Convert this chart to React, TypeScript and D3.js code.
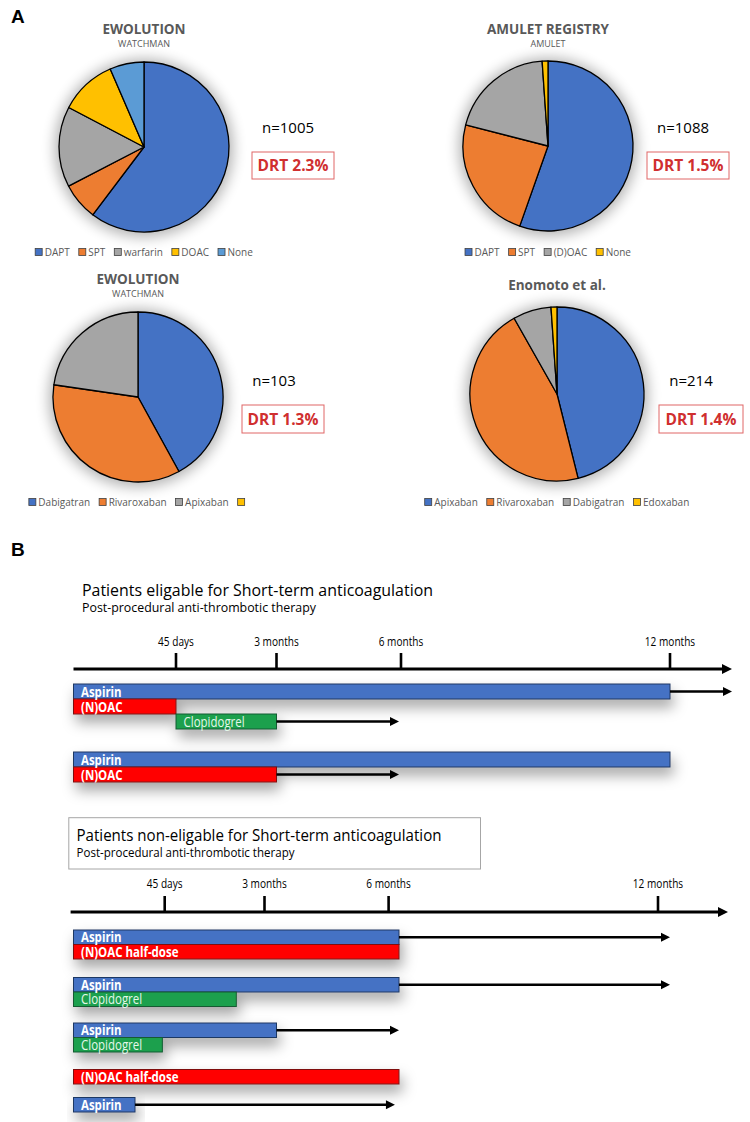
import React from "react";
import * as d3 from "d3";

// ---------- Panel A data ----------
const pieTitles = ["EWOLUTION", "AMULET REGISTRY", "EWOLUTION", "Enomoto et al."];
const pieSubtitles = ["WATCHMAN", "AMULET", "WATCHMAN", ""];
const pieNs = ["n=1005", "n=1088", "n=103", "n=214"];
const pieDRTs = ["DRT 2.3%", "DRT 1.5%", "DRT 1.3%", "DRT 1.4%"];

const ewoLabels = ["DAPT", "SPT", "warfarin", "DOAC", "None"];
const ewoValues = [60.3, 7.1, 15.3, 10.8, 6.5];
const amuletLabels = ["DAPT", "SPT", "(D)OAC", "None"];
const amuletValues = [55.4, 23.6, 19.9, 1.1];
const ewoNoacLabels = ["Dabigatran", "Rivaroxaban", "Apixaban", ""];
const ewoNoacValues = [42.0, 35.3, 22.7, 0];
const enomotoLabels = ["Apixaban", "Rivaroxaban", "Dabigatran", "Edoxaban"];
const enomotoValues = [46.1, 45.7, 7.1, 1.1];

// ---------- Panel B data ----------
const tickLabels = ["45 days", "3 months", "6 months", "12 months"];
const tickMonths = [1.5, 3, 6, 12];

const sec1Title = "Patients eligable for Short-term anticoagulation";
const sec2Title = "Patients non-eligable for Short-term anticoagulation";
const secSubtitle = "Post-procedural anti-thrombotic therapy";

// group, row within group, drug, start (months), end (months), arrow continuation to (months, -1 = open end)
type Row = { group: number; row: number; drug: string; start: number; end: number; arrowTo: number | null };
const sec1Rows: Row[] = [
  { group: 0, row: 0, drug: "Aspirin", start: 0, end: 12, arrowTo: -1 },
  { group: 0, row: 1, drug: "(N)OAC", start: 0, end: 1.5, arrowTo: null },
  { group: 0, row: 2, drug: "Clopidogrel", start: 1.5, end: 3, arrowTo: 6 },
  { group: 1, row: 0, drug: "Aspirin", start: 0, end: 12, arrowTo: null },
  { group: 1, row: 1, drug: "(N)OAC", start: 0, end: 3, arrowTo: 6 },
];
const sec2Rows: Row[] = [
  { group: 0, row: 0, drug: "Aspirin", start: 0, end: 6, arrowTo: 12 },
  { group: 0, row: 1, drug: "(N)OAC half-dose", start: 0, end: 6, arrowTo: null },
  { group: 1, row: 0, drug: "Aspirin", start: 0, end: 6, arrowTo: 12 },
  { group: 1, row: 1, drug: "Clopidogrel", start: 0, end: 2.4, arrowTo: null },
  { group: 2, row: 0, drug: "Aspirin", start: 0, end: 3, arrowTo: 6 },
  { group: 2, row: 1, drug: "Clopidogrel", start: 0, end: 1.3, arrowTo: null },
  { group: 3, row: 0, drug: "(N)OAC half-dose", start: 0, end: 6, arrowTo: null },
  { group: 4, row: 0, drug: "Aspirin", start: 0, end: 0.9, arrowTo: 5.9 },
];

// ---------- styles ----------
const PIE_COLORS = ["#4472C4", "#ED7D31", "#A5A5A5", "#FFC000", "#5B9BD5"];
const SANS = "'Open Sans', 'Noto Sans', sans-serif";

const drugStyle = (d: string) => {
  if (d.startsWith("Aspirin")) return { fill: "#4472C4", stroke: "#1F3864", text: "#FFFFFF", weight: 700 };
  if (d.startsWith("(N)OAC")) return { fill: "#FF0000", stroke: "#7F1010", text: "#FFFFFF", weight: 700 };
  return { fill: "#1FA04E", stroke: "#145A30", text: "#E4F7EA", weight: 400 };
};

let _ctx: CanvasRenderingContext2D | null = null;
function textWidth(t: string, font: string) {
  if (!_ctx) _ctx = document.createElement("canvas").getContext("2d");
  if (!_ctx) return t.length * 5.5;
  _ctx.font = font;
  return _ctx.measureText(t).width;
}

type PieSpec = {
  cx: number; cy: number; r: number; titleY: number; subY: number;
  nX: number; nY: number; box: [number, number, number, number]; legendY: number;
};

function Pie({ idx, labels, values, spec }: { idx: number; labels: string[]; values: number[]; spec: PieSpec }) {
  const pie = d3.pie<number>().sort(null).value((d) => d);
  const arcs = pie(values);
  const arc = d3.arc<d3.PieArcDatum<number>>().innerRadius(0).outerRadius(spec.r);
  const legendFont = `10px ${SANS}`;
  const sq = 7, gapIn = 2.5, gapOut = 9;
  const widths = labels.map((l) => sq + gapIn + textWidth(l, legendFont));
  const total = d3.sum(widths) + gapOut * (labels.length - 1);
  let lx = spec.cx - total / 2;
  const items = labels.map((l, i) => {
    const x = lx;
    lx += widths[i] + gapOut;
    return { l, x, c: PIE_COLORS[i] };
  });
  const [bx0, by0, bx1, by1] = spec.box;
  return (
    <g>
      <text x={spec.cx} y={spec.titleY} textAnchor="middle" fontFamily={SANS} fontWeight={700} fontSize={13.5} fill="#595959">
        {pieTitles[idx]}
      </text>
      {pieSubtitles[idx] && (
        <text x={spec.cx} y={spec.subY} textAnchor="middle" fontFamily={SANS} fontSize={9} fill="#595959">
          {pieSubtitles[idx]}
        </text>
      )}
      <circle cx={spec.cx} cy={spec.cy + 1} r={spec.r + 4} fill="#000" opacity={0.3} filter="url(#pieGlow)" />
      <g transform={`translate(${spec.cx},${spec.cy})`}>
        {arcs.map((a, i) =>
          a.value > 0 ? (
            <path key={i} d={arc(a) || ""} fill={PIE_COLORS[i]} stroke="#000" strokeWidth={1.3} strokeLinejoin="round" />
          ) : null
        )}
      </g>
      <text x={spec.nX} y={spec.nY} textAnchor="middle" fontFamily={SANS} fontSize={15} fill="#000">
        {pieNs[idx]}
      </text>
      <rect x={bx0} y={by0} width={bx1 - bx0} height={by1 - by0} fill="#fff" stroke="#E06666" strokeWidth={1} />
      <text x={(bx0 + bx1) / 2} y={(by0 + by1) / 2 + 5.5} textAnchor="middle" fontFamily={SANS} fontWeight={700} fontSize={15.5} fill="#D02F2F">
        {pieDRTs[idx]}
      </text>
      {items.map((it, i) => (
        <g key={i}>
          <rect x={it.x} y={spec.legendY - sq / 2} width={sq} height={sq} fill={it.c} stroke="#404040" strokeWidth={0.8} />
          <text x={it.x + sq + gapIn} y={spec.legendY + 3.5} fontFamily={SANS} fontSize={10} fill="#595959">
            {it.l}
          </text>
        </g>
      ))}
    </g>
  );
}

function Arrow({ x1, x2, y, w = 2.6, head = 9, half = 4.5 }: { x1: number; x2: number; y: number; w?: number; head?: number; half?: number }) {
  return (
    <g>
      <line x1={x1} x2={x2 - head + 1} y1={y} y2={y} stroke="#000" strokeWidth={w} />
      <path d={`M${x2},${y} L${x2 - head},${y - half} L${x2 - head},${y + half} Z`} fill="#000" />
    </g>
  );
}

function Timeline({
  rows, tickScale, barScale, axisY, axisX0, axisEnd, tickLabelY, groupTops, rowH, labelSize,
}: {
  rows: Row[]; tickScale: d3.ScaleLinear<number, number>; barScale: d3.ScaleLinear<number, number>;
  axisY: number; axisX0: number; axisEnd: number; tickLabelY: number; groupTops: number[]; rowH: number; labelSize: number;
}) {
  const groups = d3.groups(rows, (r) => r.group);
  const tickFont = `12px ${SANS}`;
  return (
    <g>
      {/* axis */}
      <Arrow x1={axisX0} x2={axisEnd} y={axisY} w={3} head={10} half={5} />
      {tickMonths.map((m, i) => (
        <g key={i}>
          <line x1={tickScale(m)} x2={tickScale(m)} y1={axisY - 16} y2={axisY} stroke="#000" strokeWidth={2.6} />
          <text x={tickScale(m)} y={tickLabelY} textAnchor="middle" fontFamily={SANS} fontSize={12} fill="#000"
            textLength={textWidth(tickLabels[i], tickFont) * 0.84} lengthAdjust="spacingAndGlyphs">
            {tickLabels[i]}
          </text>
        </g>
      ))}
      {groups.map(([g, rs]) => {
        const top = groupTops[g];
        return (
          <g key={g}>
            <g filter="url(#barShadow)">
              {rs.map((r, i) => {
                const st = drugStyle(r.drug);
                const x0 = barScale(r.start), x1 = barScale(r.end);
                return (
                  <rect key={i} x={x0} y={top + r.row * rowH} width={x1 - x0} height={rowH} fill={st.fill} stroke={st.stroke} strokeWidth={1} />
                );
              })}
            </g>
            {rs.map((r, i) => {
              const st = drugStyle(r.drug);
              const x0 = barScale(r.start), x1 = barScale(r.end);
              const yc = top + r.row * rowH + rowH / 2;
              const font = `${st.weight === 700 ? "bold " : ""}${labelSize}px ${SANS}`;
              return (
                <g key={"t" + i}>
                  <text x={x0 + 7.5} y={yc + labelSize * 0.36} fontFamily={SANS} fontWeight={st.weight} fontSize={labelSize} fill={st.text}
                    textLength={textWidth(r.drug, font) * 0.82} lengthAdjust="spacingAndGlyphs">
                    {r.drug}
                  </text>
                  {r.arrowTo !== null && (
                    <Arrow x1={x1} x2={r.arrowTo < 0 ? axisEnd : barScale(r.arrowTo)} y={yc} />
                  )}
                </g>
              );
            })}
          </g>
        );
      })}
    </g>
  );
}

export default function App() {
  const W = 750, H = 1122;
  const specs: PieSpec[] = [
    { cx: 144, cy: 147, r: 85, titleY: 34, subY: 47, nX: 288, nY: 133, box: [252, 152, 334, 179], legendY: 252 },
    { cx: 548, cy: 146, r: 85, titleY: 34, subY: 47, nX: 683, nY: 133, box: [647, 152, 729, 179], legendY: 252 },
    { cx: 138, cy: 397, r: 85, titleY: 284, subY: 297, nX: 274, nY: 386, box: [242, 405, 324, 433], legendY: 502 },
    { cx: 557, cy: 394, r: 87, titleY: 290, subY: 0, nX: 691, nY: 386, box: [659, 405, 743, 433], legendY: 502 },
  ];
  const pieData: [string[], number[]][] = [
    [ewoLabels, ewoValues],
    [amuletLabels, amuletValues],
    [ewoNoacLabels, ewoNoacValues],
    [enomotoLabels, enomotoValues],
  ];

  const domain = [0, ...tickMonths];
  const barScale = d3.scaleLinear().domain(domain).range([73.5, 176, 276.5, 399, 670]);
  const tick1 = d3.scaleLinear().domain(domain).range([73.5, 176, 276.5, 401, 670]);
  const tick2 = d3.scaleLinear().domain(domain).range([70.6, 164.7, 264.5, 388.6, 658]);

  return (
    <svg width={W} height={H} viewBox={`0 0 ${W} ${H}`} style={{ position: "absolute", left: 0, top: 0, background: "#fff" }}>
      <defs>
        <filter id="pieGlow" x="-30%" y="-30%" width="160%" height="160%">
          <feGaussianBlur stdDeviation={7} />
        </filter>
        <filter id="barShadow" x="-10%" y="-60%" width="125%" height="320%">
          <feDropShadow dx={3} dy={8} stdDeviation={7} floodColor="#000" floodOpacity={0.35} />
        </filter>
      </defs>
      <rect x={0} y={0} width={W} height={H} fill="#fff" />

      <text x={11} y={23} fontFamily="'Liberation Sans', Arial, sans-serif" fontWeight={700} fontSize={19} fill="#000">A</text>
      {specs.map((s, i) => (
        <Pie key={i} idx={i} labels={pieData[i][0]} values={pieData[i][1]} spec={s} />
      ))}

      <text x={11} y={556} fontFamily="'Liberation Sans', Arial, sans-serif" fontWeight={700} fontSize={19} fill="#000">B</text>

      {/* Section 1 */}
      <text x={82} y={596} fontFamily={SANS} fontSize={17} fill="#000" textLength={351} lengthAdjust="spacingAndGlyphs">{sec1Title}</text>
      <text x={82} y={612} fontFamily={SANS} fontSize={12.5} fill="#000" textLength={234} lengthAdjust="spacingAndGlyphs">{secSubtitle}</text>
      <Timeline rows={sec1Rows} tickScale={tick1} barScale={barScale} axisY={669} axisX0={73.5} axisEnd={732}
        tickLabelY={646} groupTops={[684, 752]} rowH={15} labelSize={14} />

      {/* Section 2 */}
      <rect x={68.8} y={817.7} width={411.7} height={51.3} fill="#fff" stroke="#A6A6A6" strokeWidth={1} />
      <text x={76.5} y={841} fontFamily={SANS} fontSize={16.5} fill="#000" textLength={365} lengthAdjust="spacingAndGlyphs">{sec2Title}</text>
      <text x={76.5} y={857} fontFamily={SANS} fontSize={12} fill="#000" textLength={218} lengthAdjust="spacingAndGlyphs">{secSubtitle}</text>
      <Timeline rows={sec2Rows} tickScale={tick2} barScale={barScale} axisY={912} axisX0={70.6} axisEnd={728}
        tickLabelY={888} groupTops={[930, 977.5, 1023, 1069.5, 1097.5]} rowH={14.5} labelSize={14} />
    </svg>
  );
}
